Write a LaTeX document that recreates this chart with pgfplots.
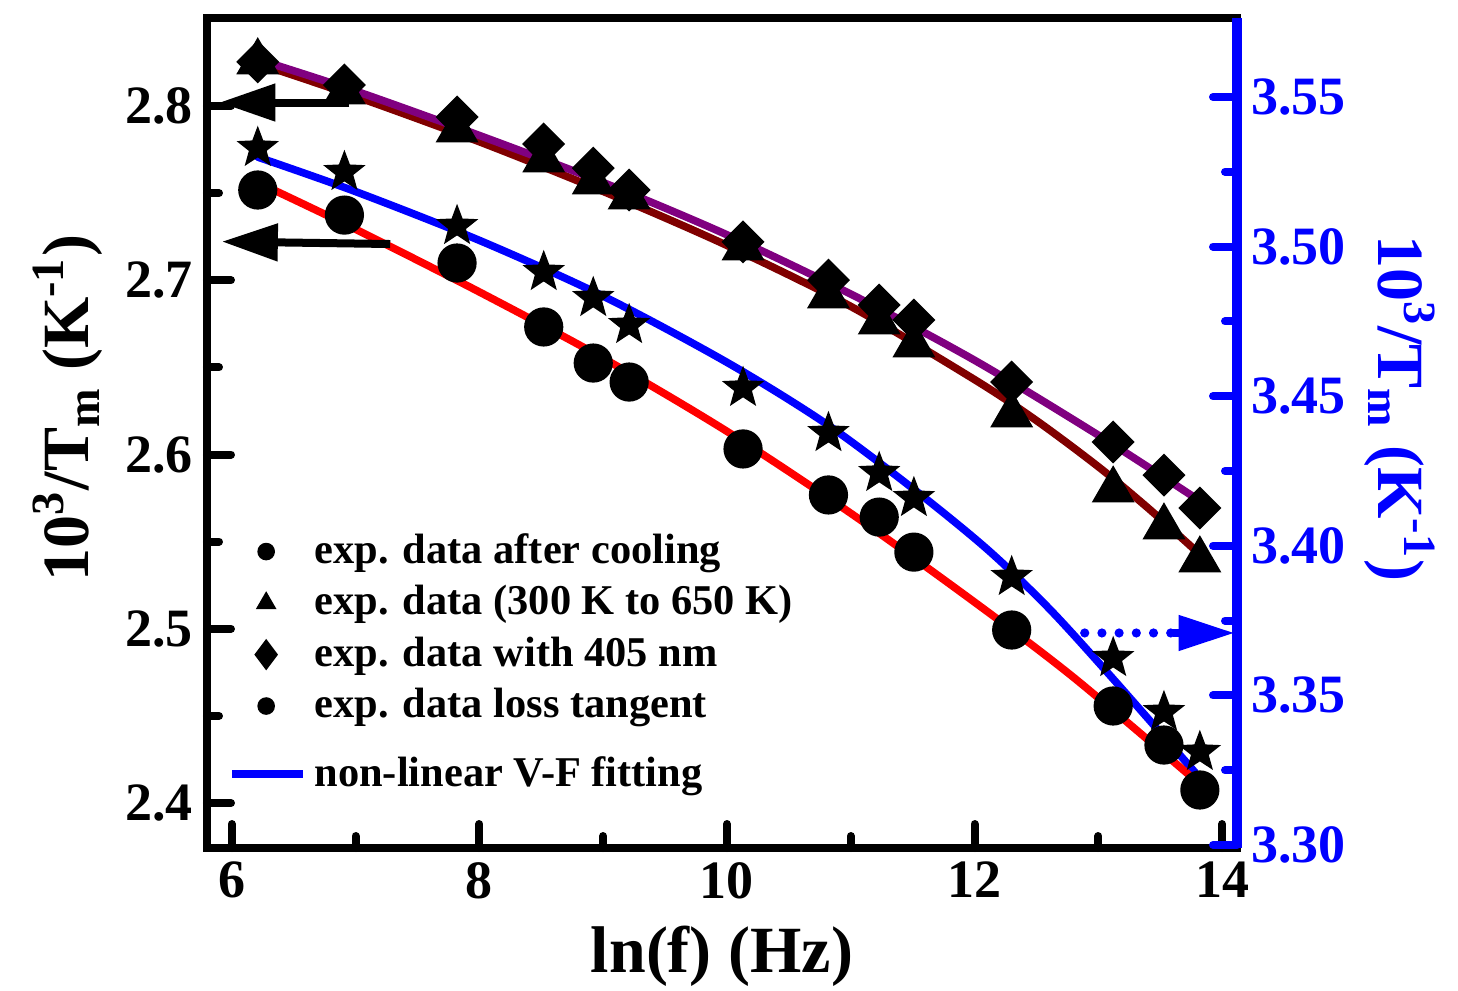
\documentclass[border=0pt]{standalone}
\usepackage{pgfplots}
\pgfplotsset{compat=1.18}
\usepackage{pgfplotstable}
\usepackage{fontspec}
\setmainfont{Liberation Serif}
\usetikzlibrary{arrows.meta}

\definecolor{vfblue}{RGB}{0,0,255}
\definecolor{vfred}{RGB}{255,0,0}
\definecolor{vfmaroon}{RGB}{128,0,0}
\definecolor{vfpurple}{RGB}{128,0,128}

% filled five point star
\pgfdeclareplotmark{fstar}{%
  \pgfpathmoveto{\pgfpointpolar{90}{\pgfplotmarksize}}%
  \pgfpathlineto{\pgfpointpolar{126}{0.42\pgfplotmarksize}}%
  \pgfpathlineto{\pgfpointpolar{162}{\pgfplotmarksize}}%
  \pgfpathlineto{\pgfpointpolar{198}{0.42\pgfplotmarksize}}%
  \pgfpathlineto{\pgfpointpolar{234}{\pgfplotmarksize}}%
  \pgfpathlineto{\pgfpointpolar{270}{0.42\pgfplotmarksize}}%
  \pgfpathlineto{\pgfpointpolar{306}{\pgfplotmarksize}}%
  \pgfpathlineto{\pgfpointpolar{342}{0.42\pgfplotmarksize}}%
  \pgfpathlineto{\pgfpointpolar{18}{\pgfplotmarksize}}%
  \pgfpathlineto{\pgfpointpolar{54}{0.42\pgfplotmarksize}}%
  \pgfpathclose
  \pgfusepathqfillstroke}

% the fit line entry sits a little lower than the marker entries
\pgfplotsset{fitline legend/.style={legend image code/.code={%
  \path (0cm,0.34cm);
  \draw[##1] (0cm,0cm) -- (0.62cm,0cm);}}}

% ln(f), then 10^3/Tm for: loss tangent (circles), after cooling (stars),
% 300 K to 650 K (triangles), with 405 nm (diamonds)
\pgfplotstableread{
x      circ   star   tri    dia
6.21   2.7518 2.7759 2.8253 2.8253
6.91   2.7374 2.7621 2.8080 2.8121
7.82   2.7099 2.7311 2.7862 2.7937
8.52   2.6732 2.7047 2.7690 2.7782
8.92   2.6525 2.6898 2.7564 2.7644
9.21   2.6416 2.6743 2.7478 2.7518
10.13  2.6032 2.6382 2.7185 2.7220
10.82  2.5768 2.6123 2.6910 2.7001
11.23  2.5641 2.5894 2.6760 2.6858
11.51  2.5440 2.5750 2.6628 2.6772
12.30  2.4993 2.5297 2.6227 2.6416
13.12  2.4557 2.4832 2.5796 2.6072
13.53  2.4333 2.4522 2.5584 2.5882
13.82  2.4075 2.4293 2.5395 2.5693
}\expdata

\pgfplotstableread{
x     y
6.20  2.8270
7.00  2.8086
8.00  2.7831
9.00  2.7561
10.00 2.7261
11.00 2.6921
12.00 2.6541
13.00 2.6111
13.80 2.5743
}\fitdia
\pgfplotstableread{
x     y
6.20  2.8247
7.00  2.8055
8.00  2.7795
9.00  2.7510
10.00 2.7200
11.00 2.6850
12.00 2.6430
12.50 2.6195
13.00 2.5930
13.40 2.5694
13.80 2.5440
}\fittri
\pgfplotstableread{
x     y
6.21  2.7707
7.00  2.7509
8.00  2.7229
9.00  2.6909
10.00 2.6529
10.80 2.6177
11.50 2.5806
12.10 2.5458
12.60 2.5118
13.10 2.4728
13.78 2.4177
}\fitstar
\pgfplotstableread{
x     y
6.22  2.7558
7.00  2.7293
8.00  2.6933
9.00  2.6553
10.00 2.6133
11.00 2.5663
12.00 2.5153
12.80 2.4721
13.78 2.4133
}\fitcirc

\begin{document}
\begin{tikzpicture}[font=\bfseries]
\path[use as bounding box] (-51.75pt,-35.5pt) rectangle (312.75pt,212pt);
\begin{axis}[
  scale only axis, width=257.5pt, height=207.5pt,
  xmin=5.8, xmax=14.12, ymin=2.3742, ymax=2.8505,
  xtick={6,8,10,12,14}, minor xtick={7,9,11,13},
  ytick={2.4,2.5,2.6,2.7,2.8}, minor ytick={2.45,2.55,2.65,2.75},
  xtick pos=left, ytick pos=left,
  tick align=inside,
  major tick length=6pt, minor tick length=3pt,
  tick style={line width=2pt, line cap=round, black},
  axis line style={line width=2pt},
  /pgf/number format/assume math mode=true,
  tick label style={font=\bfseries\fontsize{13.5}{14}\selectfont},
  yticklabel style={/pgf/number format/fixed, /pgf/number format/fixed zerofill, /pgf/number format/precision=1},
  xlabel={ln(f) (Hz)},
  ylabel={10\textsuperscript{3}/T\textsubscript{m} (K\textsuperscript{-1})},
  label style={font=\bfseries\fontsize{16.5}{18}\selectfont},
  xlabel style={at={(axis description cs:0.5,-0.131)}, anchor=center},
  ylabel style={at={(axis description cs:-0.135,0.53)}, anchor=center},
  legend style={draw=none, fill=none, at={(rel axis cs:0.008,0.399)}, anchor=north west,
    font=\bfseries\fontsize{10.6}{12}\selectfont, row sep=0pt},
  legend cell align=left,
]
  \addlegendimage{only marks, mark=*, mark size=2pt, black}
  \addlegendimage{only marks, mark=triangle*, mark size=2.6pt, black}
  \addlegendimage{only marks, mark=diamond*, mark size=3.6pt, black}
  \addlegendimage{only marks, mark=*, mark size=2pt, black}
  \addlegendimage{fitline legend, vfblue, line width=2pt}

  \addplot[forget plot, only marks, mark=triangle*, mark size=5.8pt, black] table[x=x, y=tri] {\expdata};
  \addplot[forget plot, only marks, mark=square*, mark size=3.6pt, black, mark options={rotate=45}] table[x=x, y=dia] {\expdata};
  \addplot[forget plot, only marks, mark=fstar, mark size=5pt, black] table[x=x, y=star] {\expdata};
  \addplot[forget plot, only marks, mark=*, mark size=4.7pt, black] table[x=x, y=circ] {\expdata};

  \addplot[forget plot, vfmaroon, line width=1.9pt, line cap=round, smooth] table[x=x, y=y] {\fittri};
  \addplot[forget plot, vfpurple, line width=1.9pt, line cap=round, smooth] table[x=x, y=y] {\fitdia};
  \addplot[forget plot, vfblue, line width=1.9pt, line cap=round, smooth] table[x=x, y=y] {\fitstar};
  \addplot[forget plot, vfred, line width=1.9pt, line cap=round, smooth] table[x=x, y=y] {\fitcirc};

  \draw[line width=2pt, -{Triangle[length=14pt, width=9pt]}] (axis cs:6.95,2.802) -- (axis cs:5.90,2.802);
  \draw[line width=2pt, -{Triangle[length=14pt, width=9pt]}] (axis cs:7.28,2.7208) -- (axis cs:5.92,2.7222);
  \draw[vfblue, line width=2.3pt, line cap=round, dash pattern=on 0pt off 4.3pt] (axis cs:12.89,2.4976) -- (axis cs:13.62,2.4976);
  \draw[vfblue, line width=2pt, -{Triangle[length=14pt, width=8.5pt]}] (axis cs:13.6,2.4976) -- (axis cs:14.10,2.4976);

  \legend{exp. data after cooling, exp. data (300 K to 650 K), exp. data with 405 nm, exp. data loss tangent, non-linear V-F fitting}
\end{axis}
\begin{axis}[
  scale only axis, width=257.5pt, height=207.5pt,
  xmin=5.8, xmax=14.12, ymin=3.299, ymax=3.5764,
  axis x line=none, axis y line*=right,
  ytick={3.30,3.35,3.40,3.45,3.50,3.55}, minor ytick={3.325,3.375,3.425,3.475,3.525},
  tick align=inside,
  major tick length=6pt, minor tick length=3pt,
  tick style={line width=2pt, line cap=round, vfblue},
  axis line style={line width=2.6pt, vfblue},
  /pgf/number format/assume math mode=true,
  yticklabel style={font=\bfseries\fontsize{13.5}{14}\selectfont, text=vfblue,
    /pgf/number format/fixed, /pgf/number format/fixed zerofill, /pgf/number format/precision=2},
  ylabel={10\textsuperscript{3}/T\textsubscript{m} (K\textsuperscript{-1})},
  ylabel style={font=\bfseries\fontsize{16.5}{18}\selectfont, text=vfblue,
    at={(axis description cs:1.158,0.53)}, anchor=center, rotate=180},
]
\end{axis}
\end{tikzpicture}
\end{document}
